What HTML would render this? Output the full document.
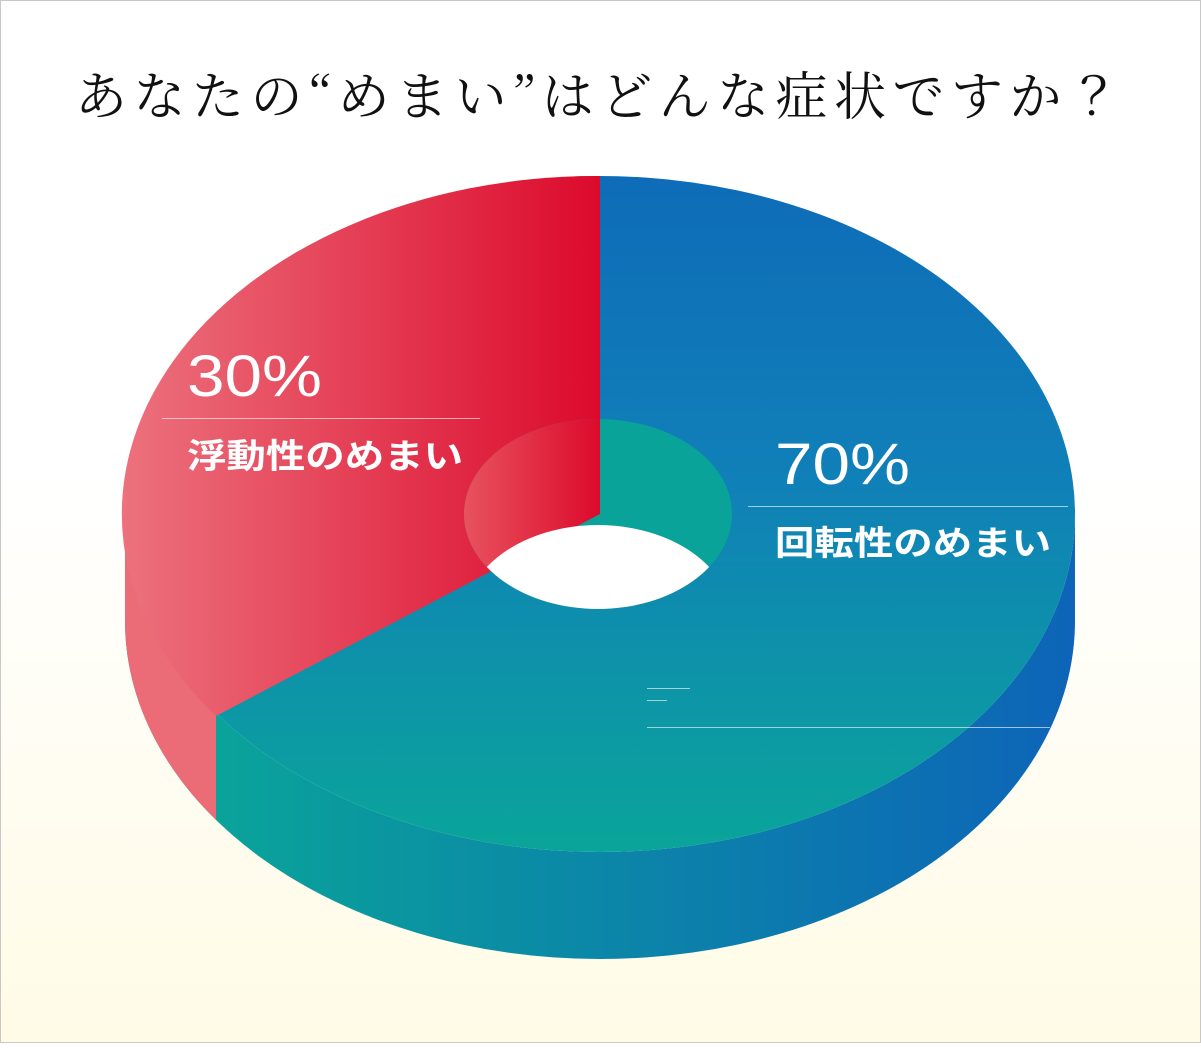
<!DOCTYPE html>
<html><head><meta charset="utf-8"><style>
html,body{margin:0;padding:0}
body{width:1201px;height:1043px;overflow:hidden}
</style></head><body>
<svg width="1201" height="1043" viewBox="0 0 1201 1043" xmlns="http://www.w3.org/2000/svg">
<defs>
<linearGradient id="bg" x1="0" y1="0" x2="0" y2="1"><stop offset="0" stop-color="#ffffff"/><stop offset="0.45" stop-color="#ffffff"/><stop offset="1" stop-color="#fffbe6"/></linearGradient>
<linearGradient id="blueTop" gradientUnits="userSpaceOnUse" x1="0" y1="176" x2="0" y2="852"><stop offset="0" stop-color="#0e6cb8"/><stop offset="0.45" stop-color="#1080b8"/><stop offset="1" stop-color="#0aa59a"/></linearGradient>
<linearGradient id="side" gradientUnits="userSpaceOnUse" x1="216" y1="0" x2="1075" y2="0"><stop offset="0" stop-color="#0aa39a"/><stop offset="1" stop-color="#0d64b8"/></linearGradient>
<linearGradient id="red" gradientUnits="userSpaceOnUse" x1="125" y1="0" x2="600" y2="0"><stop offset="0" stop-color="#ec717d"/><stop offset="1" stop-color="#dc0a2c"/></linearGradient>
<linearGradient id="redHole" gradientUnits="userSpaceOnUse" x1="464" y1="0" x2="600" y2="0"><stop offset="0" stop-color="#e8525f"/><stop offset="1" stop-color="#dc0a2c"/></linearGradient>
<clipPath id="leftc"><rect x="0" y="0" width="216" height="1043"/></clipPath>
<clipPath id="holec"><ellipse cx="598" cy="514" rx="134" ry="95"/></clipPath>
</defs>
<rect x="0.5" y="0.5" width="1200" height="1042" fill="url(#bg)" stroke="#c8c8c8"/>
<text x="75" y="115" textLength="1045" lengthAdjust="spacing" font-family="'Noto Serif CJK JP','Noto Serif CJK SC',serif" font-size="52" fill="#111">あなたの“めまい”はどんな症状ですか？</text>
<path d="M125,514 L125,621 A475,338 0 0 0 1075,621 L1075,514 A475,338 0 0 1 125,514 Z" fill="url(#side)"/>
<path d="M125,514 L125,621 A475,338 0 0 0 1075,621 L1075,514 A475,338 0 0 1 125,514 Z" fill="#eb6b77" clip-path="url(#leftc)"/>
<ellipse cx="600" cy="514" rx="475" ry="338" fill="url(#blueTop)"/>
<path d="M600,514 L600,176 A475,338 0 0 0 216,716 Z" fill="url(#red)"/>
<ellipse cx="598" cy="514" rx="134" ry="95" fill="#0aa39a"/>
<path d="M600,514 L600,176 A475,338 0 0 0 216,716 Z" fill="url(#redHole)" clip-path="url(#holec)"/>
<ellipse cx="598" cy="620" rx="134" ry="95" fill="#ffffff" clip-path="url(#holec)"/>
<g stroke="#ffffff" stroke-opacity="0.6" stroke-width="1">
<line x1="162" y1="418.5" x2="480" y2="418.5"/>
<line x1="748" y1="506.5" x2="1068" y2="506.5"/>
<line x1="647" y1="688.5" x2="690" y2="688.5"/>
<line x1="647" y1="700.5" x2="667" y2="700.5"/>
<line x1="647" y1="727.5" x2="1050" y2="727.5"/>
</g>
<g fill="#ffffff" font-family="'Liberation Sans','Noto Sans CJK JP',sans-serif">
<text x="187" y="396" font-size="58" textLength="135" lengthAdjust="spacingAndGlyphs">30%</text>
<text x="187" y="468" font-size="34" font-weight="bold" textLength="276" lengthAdjust="spacingAndGlyphs">浮動性のめまい</text>
<text x="775" y="484" font-size="58" textLength="135" lengthAdjust="spacingAndGlyphs">70%</text>
<text x="775" y="555" font-size="34" font-weight="bold" textLength="276" lengthAdjust="spacingAndGlyphs">回転性のめまい</text>
</g>
</svg>
</body></html>
